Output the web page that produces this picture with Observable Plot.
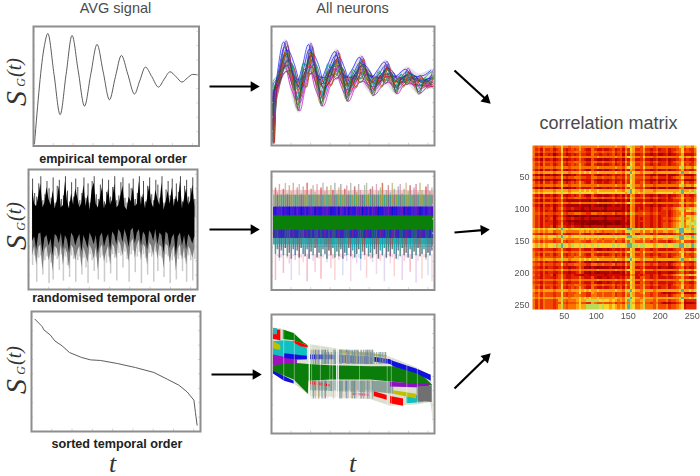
<!DOCTYPE html>
<html><head><meta charset="utf-8">
<script src="https://cdn.jsdelivr.net/npm/d3@7"></script>
<script src="https://cdn.jsdelivr.net/npm/@observablehq/plot@0.6"></script>
<style>html,body{margin:0;padding:0;background:#fff}#fig{position:relative;width:700px;height:476px;overflow:hidden}svg{position:absolute;background:transparent!important}</style>
</head><body><div id="fig"></div>
<script>
// ---- AVG signal, empirical order
const avgT=[0.6,6.6,8.65,12.4,16.1,19.7,23.3,27,30.8,34.6,38.4,42.1,45.9,49.5,53.1,57,61,64.3,67.6,71.5,75.5,79,82.5,86.1,89.7,93,96.2,99.2];
const avgS=[2,84,94.2,60,26.2,60,92.5,63,33.4,60,85,62,38.7,58,75.8,60,43.5,55,66,58,49.3,56,62.1,58,53.5,57,59.9,59.6];
// ---- All neurons, empirical order
const neuronT=[0.6,2,3.7,8.8,12.8,16.9,20.4,24,27.5,31.2,35.6,40.3,43.6,46.8,50.9,55.2,59,62.7,66.8,70.5,73.7,77,80.2,83.5,87.2,90.8,94.9,99];
const neuronMean=[2,46,52,74,59,45,59,73,59,46,59,69,58,48,56,65,57.5,50.5,56,62,57,51.5,55,58,55,52,53,55];
const neuronTop=[3,55,58,89,72,56,70,87,72,58,70,81,70,59,67,76,68,59,67,72,65,59,63,66,63,60,62,65];
const neuronBottom=[0,30,47,62,40,27,45,59,45,32,48,55,46,36,46,52,46,41,47,51,46,42,47,51,46,42,46,48];
const neuronDeviation=[
[0,6,3,9,6,4,5,8,6,5,4,7,5,3,4,5,4,3,4,5,3,3,2,4,3,3,2,4],
[0,-8,-3,-6,-8,-9,-6,-7,-6,-7,-5,-6,-4,-6,-4,-5,-3,-4,-3,-4,-3,-4,-3,-3,-2,-4,-3,-3],
[8,3,1,4,-3,2,-2,5,2,-3,3,3,-2,2,3,4,-2,3,-2,3,2,-2,2,1,-2,3,2,-2],
[3,-4,2,-3,5,-4,4,-2,-3,3,-4,-2,4,-3,-2,-3,3,-2,3,-2,-3,2,-2,-2,3,-2,-3,3],
[0,5,4,12,3,8,2,11,2,8,1,9,2,7,1,8,2,6,1,6,2,5,1,4,2,4,1,6],
[0,-6,-4,-9,-3,-14,-2,-10,-3,-11,-2,-9,-3,-9,-2,-8,-3,-7,-2,-7,-3,-7,-2,-5,-3,-7,-2,-5],
[15,2,-1,-2,7,2,6,-1,6,1,6,-2,5,1,5,-1,5,1,4,-2,4,1,3,-1,3,1,3,1],
[5,-2,1,2,-6,-1,-7,2,-5,-1,-6,1,-5,-1,-4,2,-5,-1,-4,1,-4,-1,-3,1,-3,-1,-3,-1],
[1,2,3,6,9,6,8,4,9,6,7,5,7,5,6,3,5,4,5,3,4,3,3,2,3,2,3,3],
[2,-3,-2,-4,-9,-7,-8,-3,-9,-6,-8,-4,-7,-5,-5,-3,-6,-4,-4,-3,-4,-3,-3,-2,-3,-2,-2,-4],
[24,4,2,7,-1,5,-1,6,-2,6,-1,4,1,4,-1,6,0,2,-2,4,0,2,-1,3,1,2,0,5],
[12,-1,-2,-7,1,-6,1,-6,2,-5,2,-5,0,-4,1,-4,1,-3,2,-4,1,-3,1,-3,1,-2,1,-4],
[4,5,1,1,4,-5,3,2,3,-4,2,1,3,-3,2,1,2,-2,2,1,2,-2,1,1,2,-1,1,2],
[6,-5,-1,-1,-4,4,-4,-1,-4,4,-3,-1,-3,3,-2,-1,-2,3,-2,-1,-2,2,-2,-1,-1,2,-1,-1],
[1,1,2,3,2,10,3,3,2,11,3,2,3,9,2,2,3,7,1,2,3,6,2,1,1,5,1,1],
[9,-2,0,-3,-2,3,-1,-3,-1,2,-2,-3,-1,2,-1,-2,-1,1,-1,-2,0,1,-1,-1,0,1,-1,-1],
[0,-10,-3,13,9,8,8,12,10,9,8,10,8,9,8,9,7,7,8,8,6,6,6,6,5,6,6,8],
[0,-14,-6,-12,-11,-16,-10,-12,-11,-13,-9,-12,-8,-11,-7,-11,-7,-8,-7,-9,-6,-8,-5,-6,-5,-8,-4,-5],
[20,-2,3,-8,9,-11,10,-8,9,-10,8,-9,8,-8,7,-9,6,-6,6,-7,5,-6,5,-5,4,-7,4,7],
[0,7,5,10,-9,9,-10,10,-9,10,-8,9,-8,9,-7,8,-6,7,-6,7,-5,5,-5,5,-5,5,-4,-5],
[30,8,5,-10,11,-6,10,-10,11,-7,10,-11,9,-7,8,-9,8,-5,7,-9,6,-5,5,-6,6,-5,4,-4],
[0,-12,-5,5,-11,12,-10,4,-10,10,-9,3,-9,8,-8,3,-8,6,-7,3,-6,5,-6,2,-5,6,-5,6],
[2,0,-3,-12,4,-16,5,-13,4,-13,4,-13,3,-11,3,-12,3,-9,3,-10,2,-8,2,-7,2,-9,2,-6],
[10,2,4,14,1,10,-1,13,0,11,-1,11,1,10,0,10,1,8,0,9,0,7,0,7,0,7,0,9]];
const neuronLag=[-.8,.6,-.3,1,.2,-1.1,.9,-.5,1.3,-1.2,.4,-.2,.7,-.9,.1,1.1,-1.4,.5,-.6,1.2,-1,.8,-.4,.3];
const lineHues=["#0000ff","#bf00bf","#008000","#ff0000","#00a0a0","#808000","#404040","#6a1fc0"];
// ---- AVG signal, randomised order (sample index 0..79)
const sigGrayTop=[92,80,77,88,94,74,79,90,84,76,93,72,86,91,75,78,94,82,73,89,77,92,85,74,80,93,76,88,72,90,94,79,75,87,92,73,81,91,77,85,94,74,78,89,93,76,72,88,84,92,75,80,94,77,90,73,86,93,79,74,91,87,76,94,72,83,90,78,92,75,88,81,94,73,86,91,77,84,93,75];
const sigBlackTop=[84,71,69,78,88,68,72,85,75,70,82,67,74,86,68,70,90,73,67,80,70,84,76,68,72,87,69,79,66,83,89,71,68,76,85,67,72,84,70,75,88,68,70,78,86,69,66,77,73,85,69,71,90,70,80,67,76,87,72,68,83,75,70,89,66,73,82,71,85,69,78,72,90,67,76,84,70,74,87,69];
const sigBlackBottom=[40,44,33,46,47,30,43,45,36,42,28,46,44,38,47,33,45,41,30,47,44,36,42,46,31,45,40,34,47,43,37,45,29,44,47,35,42,46,32,48,45,37,50,47,39,50,44,35,49,51,38,47,50,36,48,45,33,49,46,40,50,37,47,45,30,48,46,34,43,46,28,44,47,36,45,33,46,43,38,44];
const sigMidBottom=[28,36,20,35,37,16,33,36,24,31,15,36,34,26,37,20,35,30,17,37,34,24,32,36,18,35,29,22,37,33,25,35,16,34,37,23,31,36,20,38,35,25,41,37,28,40,34,23,39,42,26,37,41,24,38,35,20,39,36,28,40,25,37,35,17,38,36,22,32,36,15,34,37,24,35,20,36,33,26,34];
const sigLightBottom=[20,28,6,26,28,12,24,27,5,22,8,28,25,16,29,7,27,20,10,28,25,6,24,27,12,26,18,5,29,24,15,27,8,26,28,6,22,27,13,29,26,7,30,28,18,31,25,6,29,32,14,27,31,5,29,26,12,30,27,6,31,15,28,26,10,29,27,5,24,27,8,25,28,15,26,6,28,24,7,25];
// ---- All neurons, randomised order
const rndTop=[86,82,89,80,85,90,81,88,83,90,79,86,89,81,87,84,90,80,85,88,82,89,80,86,90,83,87,80,88,84,90,81,86,89,80,85,88,83,90,79,87,82,89,84,80,88,90,81,85,87,80,89,83,86,90,79,84,88,82,90,85,80,87,89,81,85,90,83,88,80,86,89,82,90,84,80,87,89,83,86];
const rndMid=[30,34,27,33,29,35,28,31,26,34,29,33,27,35,30,28,34,26,32,29,35,27,31,28,34,30,26,33,29,35,27,32,28,34,26,31,29,35,28,33,27,30,34,26,32,29,35,28,31,27,34,30,26,33,29,35,27,32,28,34,30,26,33,28,35,29,31,27,34,26,32,29,35,28,30,34,27,31,29,33];
const rndBottom=[8,28,24,27,14,29,26,22,8,28,25,29,12,27,23,28,7,26,29,24,15,28,26,9,27,29,23,28,18,26,8,29,25,27,12,28,24,29,7,26,28,22,27,16,29,25,10,28,26,23,29,13,27,24,28,7,26,29,22,27,11,28,25,29,8,24,27,28,15,26,29,6,24,28,9,27,25,12,28,7];
const hueOrderA="01530642150362410531264015362041235012640351264103562401536240513264015362410536";
const hueOrderB="32041625031462503124650213460521340652134065213042651304621350426130462513042615";
const huesPale=["#f8a8b8","#d8d0f4","#f4c0d0","#e4c8ec","#fbc8c8","#d0d8f0","#f0d0e0"];
const huesTop=["#ff3a4a","#f7b0b0","#c8c088","#f48888","#a8c8b8","#e0a0c8","#f0b8b8"];
const huesUpper=["#8a9a28","#209a9a","#70608a","#a09038","#18a898","#90608a","#5a9a58"];
const huesBlue=["#2a10e0","#5a20c8","#1010d0","#7020c0","#2018e8","#4a20d0","#5a10c0"];
const huesLower=["#4a20c0","#2030c0","#206a60","#7a2090","#3020d0","#505890","#1f5fa0"];
const huesTeal=["#10a0b0","#20a8a8","#70705a","#308890","#10b0b8","#507888","#805a70"];
const huesMuted=["#a06080","#8070a0","#908060","#60a0a0","#a08090","#7080a0","#806070"];
const rndBaseHues=["#f6cccc","#a4b094","#3a18d8","#3a30b0","#55a4a8","#9e9098"];
// ---- AVG signal, sorted order
const sortedT=[2,6.3,7.3,11.2,13.8,18.1,22.5,29.6,34.9,40.8,50.7,61.5,72.4,80.3,87.2,92.1,96.1,97,98];
const sortedS=[93.6,87.5,84.7,80.3,75.5,71.4,65.8,61.7,59.7,59.2,56.7,53.3,49.2,43.6,38.6,33,26.1,15.8,5.3];
// ---- All neurons, sorted order: colour bands [time list, upper edge, lower edge]
const bandHues=["#dcdecf","#10c0c0","#ff0000","#30b0b0","#008000","#ff0000","#c0c000","#a010c0","#1010d8","#1010e0","#7aa094","#8aa098","#0a7d0a","#1010e0","#5a6ab8","#b8b870","#1010e0","#ff0000","#d060a0","#ff0000","#ff0000","#10c0c0","#8a10c0","#c0c000","#707070"];
const bandTimes=[[1.2,5.7,13.9,22,24,36.3,40.4,60.8,73,89.4,97.6,98.6,99.2],[1.2,8,14,22],[1.2,5.7],[1.2,3.7],[7.3,13.9,20,22],[13.9,18,22.5],[1.2,5.7],[1.2,8,15.9],[1.2,8,13.9],[8,15,22],[24,62],[62,75],[1.2,13.9,22.6,23,36.3,60.8,75,89.4,98.6],[24,36.3,39],[41,62],[41,71],[63,73,75,89.4,98],[24,36],[50,60],[63,71],[73,81],[83,93.5],[73,97],[75,89],[89.4,98.6]];
const bandUpper=[[88.5,88,83.8,74,74.5,72,71,67.8,64,55,48.7,40,24],[77,78,77,72],[87,87],[88.5,88],[87,84,76,74.5],[78,76,73.5],[77,74],[66,64,62],[53,48,44],[67,66,65],[44,44],[44,43],[57,59,58,58,57,56,56,53,41],[66,66,65.5],[66,64],[70,65.5],[64,62,60.5,54,49],[44,41],[34,33],[35,32],[31,29],[32,32],[43,41],[36,33],[39,40]];
const bandLower=[[51.5,48.7,41.7,33.3,31,30.5,30,28.5,23,24,26,18,6.7],[64,63,61,62],[79,78],[83,83],[79,78,75,74],[76,73,72],[71,70],[57,57,58],[50,44,41.5],[63,62,62],[36,34],[35,33],[52,45,33,44,45,45,43,41,40],[62,62,62],[59,58],[67,64],[60,58,56,50,44],[41,39],[32,31],[31,28],[25,23],[25,26],[39,38],[33,29],[27,26]];
const gapTimes=[7.5,14,24.6,30,35.8,37.5,54,71,73.5,83,89.5];
const gapTimesStrong=[23.2,40,41];
const fadeTimes=[24.5,25.7,27,28,29,31,32,33,34.5,38,39,42,43,44.5,46,47,48,49.5,51,52,53,55,56.5,58,59,60,61,62];
const fadeHues=["#e8e0d0","#70a0a0","#d0b0b0","#f0f0e8","#b0a070","#80b0b0","#f0d8e0","#a08090","#e0e8e0","#d0c0a0","#f4f0f0","#70a090","#c090a0","#e8e8d8","#80a0a8","#d8b8c0","#f4f4ec","#a0a070","#7090a0","#e0c0d0","#f0ece0","#90a0a0","#c0a080","#f0e0e8","#80a0a0","#d0b0c0","#eaeade","#90a8a0"];
const fadeHuesUpper=["#70a090","#9a9aa8","#608098","#b0b070","#7888b0","#5a9a8a","#a8a880","#6070b0","#88a8a0","#b0a880","#7a90a8","#60a090","#9090a0","#a8b070","#6878b0","#70a8a0","#a0a090","#8090a8","#5a98a0","#b0a878","#7080b0","#80a090","#a0a070","#7088a8","#60a098","#9898a0","#a8a878","#7090a0"];
// ---- Correlation matrix: colour level 0 (dark red) to 9 (teal)
const matrixLevels=["#8a0000","#ad0000","#cf0c00","#e62800","#f24a00","#f97200","#fda210","#ffd428","#b8dc58","#62ae9e"];
const matrixRowPatterns=[
"5342533423 4732343464 3225322322 3423425376 3346332342 3342334573 4335",
"4231422312 3621232353 2114211211 2312314265 2235221231 2231223462 3224",
"6565666656 6866566676 7676676666 6676657897 6658666566 6666666896 6768",
"5454555545 5755455565 5555565555 5565546786 5547555455 5555555785 6657",
"7686767786 8987687787 8778787777 7878778998 8788777687 7887788997 8798",
"4231422312 3521111121 1102110101 1211213165 2224221231 2232233462 4335",
"5342423312 3521010010 0100001001 1100113165 2334332342 3342345684 7768",
"5342433312 3622121110 1000000100 0100112165 2324332342 3443456785 7878",
"4332433323 4632233353 2224211221 2322324376 2245332342 2232234463 3224",
"4332423322 3522122353 1102101111 2111214276 2235222231 2221123452 3224",
"5353544434 4743444574 4336544544 4534436586 4457443453 2121223461 1112",
"5353544434 6854555676 6888887877 6765657987 5568555464 4453445672 3333",
"7676777767 7877677787 7777677777 7777776897 6768666677 7777767897 7878",
"3120311201 2610121342 2224211221 2322325376 3335221131 1131112451 1113",
"5231432302 3631232353 3225332332 3423415265 2235221231 1231223462 2224",
"6565656645 5865555566 5656565455 5565547886 6657556465 5665567997 7768",
"5342433413 4632232221 2212222212 2222213265 2324332342 3443456785 6867",
"5453544434 4743445554 4335544544 4534436486 4446443453 3342345574 4435"];
const matrixRowOrder=[3,0,17,14,3,1,17,0,3,1,2,13,17,13,0,3,13,2,12,1,17,5,3,5,16,6,17,6,16,6,7,16,4,15,8,4,15,17,4,4,8,3,0,17,2,9,17,9,3,9,16,8,3,8,17,0,2,10,17,2,11,10,11,11];
const matrixTicks=[50,100,150,200,250];

// ---- layout (figure pixels)
const ax={x:[0,100],y:[0,100]};
const boxes={avg:[32.5,26,165.5,119.5],neuron:[271,26,163,119],rnd:[28,169,169,120],rndN:[271,171,163,118.5],sorted:[31,311,169,120],sortedN:[271,314,163,119]};
const fig=document.getElementById("fig");
const place=(p,l,t,soft)=>{p.style.left=l+"px";p.style.top=t+"px";if(soft)p.style.filter=`blur(${soft}px)`;fig.appendChild(p);};
const tickList=[12,24,36,48,60,72,84,96];
function panel(key,marks,xDomain=ax.x,soft=.4){
  const [l,t,w,h]=boxes[key];
  const xt=tickList.map(v=>xDomain[0]+(xDomain[1]-xDomain[0])*v/100);
  place(Plot.plot({width:w+4,height:h+4,margin:2,x:{domain:xDomain,axis:null},y:{domain:ax.y,axis:null},color:{type:"identity"},
    marks:[...marks,
      Plot.ruleX(xt,{y1:0,y2:2,stroke:"#d4d4d4"}),Plot.ruleY(tickList,{x1:xDomain[0],x2:xDomain[0]+(xDomain[1]-xDomain[0])*.012,stroke:"#d4d4d4"}),
      Plot.ruleY(tickList,{x1:xDomain[1],x2:xDomain[1]-(xDomain[1]-xDomain[0])*.012,stroke:"#d4d4d4"}),
      Plot.frame({stroke:"#8e8e8e",strokeWidth:2})]}),l-2,t-2,soft);
}
// figure annotations
const serif="'Liberation Serif',serif", sans="'Liberation Sans',Arial,sans-serif";
const titles=[{s:"AVG signal",x:115,y:8,z:14.5},{s:"All neurons",x:352,y:8,z:14.5},{s:"correlation matrix",x:608,y:123,z:18}];
const captions=[{s:"empirical temporal order",x:112.5,y:158.5},{s:"randomised temporal order",x:113.5,y:297},{s:"sorted temporal order",x:116.5,y:443}];
const sgAt=[86,230,374];
const arrows=[[209,86,259,86],[209,229,259,229],[211,374,261,374],[454,70,490,103],[454,232,489,229],[454,388,490,353]];
const angle=d=>Math.atan2(d[3]-d[1],d[2]-d[0]);
place(Plot.plot({width:700,height:476,margin:0,x:{domain:[0,700],axis:null},y:{domain:[476,0],axis:null},marks:[
  Plot.link(arrows,{x1:d=>d[0],y1:d=>d[1],x2:d=>d[2]-4*Math.cos(angle(d)),y2:d=>d[3]-4*Math.sin(angle(d)),stroke:"#000",strokeWidth:2.2}),
  Plot.dot(arrows,{x:d=>d[2]-5.8*Math.cos(angle(d)),y:d=>d[3]-5.8*Math.sin(angle(d)),symbol:"triangle",r:3.9,fill:"#000",stroke:"none",rotate:d=>angle(d)*180/Math.PI+90}),
  Plot.text(titles,{x:"x",y:"y",text:"s",fontSize:"z",fontFamily:sans,fill:"#4a4a4a"}),
  Plot.text(captions,{x:"x",y:"y",text:"s",fontSize:12.6,fontWeight:"bold",fontFamily:sans,fill:"#222"}),
  Plot.text(sgAt,{x:15.5,y:d=>d+12,text:()=>"S",rotate:-90,fontSize:30,fontStyle:"italic",fontFamily:serif,fill:"#333"}),
  Plot.text(sgAt,{x:21,y:d=>d-4,text:()=>"G",rotate:-90,fontSize:12,fontStyle:"italic",fontFamily:serif,fill:"#333"}),
  Plot.text(sgAt,{x:14,y:d=>d-19,text:()=>"(t)",rotate:-90,fontSize:20,fontStyle:"italic",fontFamily:serif,fill:"#333"}),
  Plot.text([112,352],{x:d=>d,y:463,text:()=>"t",fontSize:26,fontStyle:"italic",fontFamily:serif,fill:"#333"})
]}),0,0);

// panel: AVG empirical
panel("avg",[Plot.line(avgT.map((t,i)=>({t,s:avgS[i]})),{x:"t",y:"s",curve:"monotone-x",stroke:"#4a4a4a",strokeWidth:.9})]);
// panel: neurons empirical
const nRows=neuronT.map((t,i)=>({t,hi:neuronTop[i],lo:neuronBottom[i]}));
const nLines=neuronDeviation.flatMap((dev,k)=>dev.map((d,i)=>({k,t:neuronT[i]+neuronLag[k],s:neuronMean[i]+d,c:lineHues[k%lineHues.length]})));
panel("neuron",[
  Plot.areaY(nRows,{x:"t",y1:"lo",y2:"hi",curve:"monotone-x",fill:"#cfc9de",fillOpacity:.55}),
  Plot.line(nLines,{x:"t",y:"s",z:"k",stroke:"c",curve:"monotone-x",strokeWidth:.95,strokeOpacity:.7,clip:true})],ax.x,.55);
// panel: AVG randomised
const sRows=sigGrayTop.map((g,i)=>({i,g,bt:sigBlackTop[i],bb:sigBlackBottom[i],m:sigMidBottom[i],l:sigLightBottom[i]}));
panel("rnd",[
  Plot.ruleX(sRows,{x:"i",y1:"l",y2:60,stroke:"#cbcbcb",strokeWidth:1.5}),
  Plot.areaY(sRows,{x:"i",y1:"m",y2:60,fill:"#7c7c7c"}),
  Plot.ruleX(sRows,{x:"i",y1:60,y2:"g",stroke:"#4c4c4c",strokeWidth:1}),
  Plot.areaY(sRows,{x:"i",y1:"bb",y2:"bt",fill:"#000"})],[-2,80.3],.45);
// panel: neurons randomised
const rRows=rndTop.map((v,i)=>({i,top:v,mid:rndMid[i],bot:rndBottom[i],a:+hueOrderA[i%hueOrderA.length]%7,b:+hueOrderB[i%hueOrderB.length]%7}));
const layer=(y1,y2,pal,key,op,w=1.3)=>Plot.ruleX(rRows,{x:"i",y1,y2,stroke:d=>pal[d[key]],strokeWidth:w,strokeOpacity:op});
const base=(y1,y2,c)=>Plot.rectY([{a:-1,b:80}],{x1:"a",x2:"b",y1,y2,fill:c});
panel("rndN",[
  layer("bot",30,huesPale,"a",.8,1.5),
  layer("mid",37,huesMuted,"b",.85,1.5),
  base(79,84,rndBaseHues[0]),
  layer(79,"top",huesTop,"a",.7,1.5),
  layer(70,"top",huesUpper,"b",.3,1),
  base(70,80,rndBaseHues[1]),layer(70,80,huesUpper,"b",.75),
  base(62,70,rndBaseHues[2]),layer(62,70,huesBlue,"a",1),
  layer("mid",44,huesTeal,"a",.6,1.2),
  base(38,44,rndBaseHues[4]),layer(36,44,huesTeal,"a",.9),
  base(43.5,51,rndBaseHues[3]),layer(43.5,51,huesLower,"b",.9),
  base(50.5,62.6,"#0a7f0a")],[-2,80.3],.65);
// panel: AVG sorted
panel("sorted",[Plot.line(sortedT.map((t,i)=>({t,s:sortedS[i]})),{x:"t",y:"s",stroke:"#4a4a4a",strokeWidth:.9})]);
// panel: neurons sorted
const bRows=bandTimes.flatMap((ts,k)=>ts.map((t,i)=>({k,t,hi:bandUpper[k][i],lo:bandLower[k][i],c:bandHues[k]})));
panel("sortedN",[
  Plot.areaY(bRows,{x:"t",y1:"lo",y2:"hi",z:"k",fill:"c"}),
  Plot.ruleX(fadeTimes.map((t,i)=>({t,c:fadeHues[i]})),{x:"t",y1:29,y2:44,stroke:"c",strokeWidth:1.5,strokeOpacity:.85}),
  Plot.ruleX(fadeTimes.map((t,i)=>({t,c:fadeHuesUpper[i]})),{x:"t",y1:36,y2:44,stroke:"c",strokeWidth:1,strokeOpacity:.7}),
  Plot.ruleX(fadeTimes.map((t,i)=>({t,c:fadeHuesUpper[i]})),{x:"t",y1:58,y2:70,stroke:"c",strokeWidth:1.5,strokeOpacity:.85}),
  Plot.ruleX(fadeTimes.map((t,i)=>({t:t+8,c:fadeHuesUpper[i]})),{x:"t",y1:58,y2:68,stroke:"c",strokeWidth:1.2,strokeOpacity:.8}),
  Plot.ruleX(gapTimes,{y1:5,y2:95,stroke:"#fff",strokeWidth:1,strokeOpacity:.4}),
  Plot.ruleX(gapTimesStrong,{y1:5,y2:95,stroke:"#fff",strokeWidth:1.4,strokeOpacity:.85})],ax.x,.65);
// correlation matrix
const matrixValues=matrixRowOrder.flatMap(r=>[...matrixRowPatterns[r].replace(/ /g,"")].map(Number));
const matrixPlot=Plot.plot({width:200,height:189,marginLeft:32,marginRight:4,marginTop:5,marginBottom:20,
  x:{domain:[0.5,256.5],axis:null},y:{domain:[0.5,256.5],reverse:true,axis:null},
  color:{type:"linear",domain:matrixLevels.map((_,i)=>i),range:matrixLevels},
  marks:[
    Plot.raster(matrixValues,{width:64,height:64,x1:0.5,x2:256.5,y1:0.5,y2:256.5,fill:d=>d,imageRendering:"pixelated"}),
    Plot.axisX({ticks:matrixTicks,anchor:"bottom",tickSize:0,tickPadding:3,fontSize:9,color:"#555",label:null,fontFamily:sans}),
    Plot.axisY({ticks:matrixTicks,anchor:"left",tickSize:0,tickPadding:3,fontSize:9,color:"#555",label:null,fontFamily:sans})
  ]});
place(matrixPlot,500,140,.3);
</script></body></html>
